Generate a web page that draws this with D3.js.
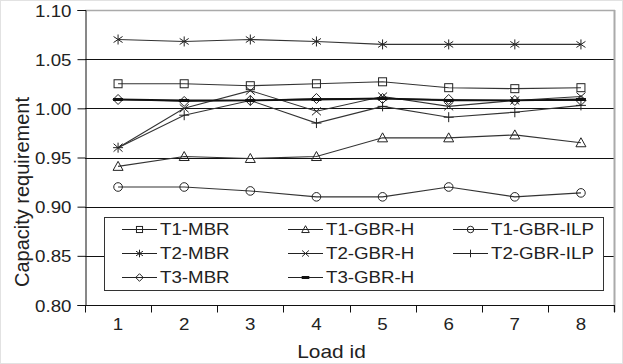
<!DOCTYPE html>
<html>
<head>
<meta charset="utf-8">
<script src="https://cdn.jsdelivr.net/npm/d3@7/dist/d3.min.js"></script>
<style>
  html, body { margin: 0; padding: 0; background: #fff; }
  svg { display: block; }
  text { font-family: "Liberation Sans", Arial, sans-serif; fill: #222; }
</style>
</head>
<body>
<svg id="chart" width="623" height="364"></svg>
<script>
// ---- data ----
const categories = ["1", "2", "3", "4", "5", "6", "7", "8"];
const yTicks = [0.80, 0.85, 0.90, 0.95, 1.00, 1.05, 1.10];
const seriesNames = ["T1-MBR", "T1-GBR-H", "T1-GBR-ILP", "T2-MBR", "T2-GBR-H", "T2-GBR-ILP", "T3-MBR", "T3-GBR-H"];
const seriesSymbols = ["square", "triangle", "circle", "asterisk", "cross", "plus", "diamond", "dash"];
const t1MBR    = [1.025, 1.025, 1.023, 1.025, 1.027, 1.021, 1.020, 1.021];
const t1GBRH   = [0.941, 0.951, 0.949, 0.951, 0.970, 0.970, 0.973, 0.965];
const t1GBRILP = [0.920, 0.920, 0.916, 0.910, 0.910, 0.920, 0.910, 0.914];
const t2MBR    = [1.070, 1.068, 1.070, 1.068, 1.065, 1.065, 1.065, 1.065];
const t2GBRH   = [0.960, 1.000, 1.018, 0.997, 1.012, 1.002, 1.008, 1.012];
const t2GBRILP = [0.960, 0.993, 1.008, 0.985, 1.002, 0.991, 0.996, 1.003];
const t3MBR    = [1.009, 1.007, 1.008, 1.010, 1.010, 1.009, 1.008, 1.008];
const t3GBRH   = [1.009, 1.008, 1.008, 1.009, 1.010, 1.008, 1.008, 1.009];
const seriesValues = [t1MBR, t1GBRH, t1GBRILP, t2MBR, t2GBRH, t2GBRILP, t3MBR, t3GBRH];

// ---- layout ----
const svg = d3.select("#chart");
const W = 623, H = 364;
const pLeft = 85, pRight = 614, pTop = 10, pBottom = 305;
const STRETCH = 1.1;

svg.append("rect").attr("x", 0.5).attr("y", 0.5).attr("width", W - 1).attr("height", H - 1)
  .attr("fill", "#fff").attr("stroke", "#e2e2e2");

const x = d3.scaleBand().domain(categories).range([pLeft, pRight]).padding(0);
const y = d3.scaleLinear().domain([0.80, 1.10]).range([pBottom, pTop]);
const cx = c => x(c) + x.bandwidth() / 2;

// gridlines
svg.append("g").selectAll("line").data(yTicks.filter(t => t > 0.8 && t < 1.1)).join("line")
  .attr("x1", pLeft).attr("x2", pRight)
  .attr("y1", d => Math.round(y(d)) + 0.5).attr("y2", d => Math.round(y(d)) + 0.5)
  .attr("stroke", "#111").attr("stroke-width", 1);

// top and right frame (grey)
svg.append("line").attr("x1", pLeft).attr("x2", pRight + 1).attr("y1", pTop + 0.5).attr("y2", pTop + 0.5)
  .attr("stroke", "#aaa").attr("stroke-width", 1.5);
svg.append("line").attr("x1", pRight + 0.5).attr("x2", pRight + 0.5).attr("y1", pTop).attr("y2", pBottom + 7)
  .attr("stroke", "#aaa").attr("stroke-width", 2);

// y axis
const yAxis = svg.append("g").attr("transform", `translate(${pLeft + 0.5},0)`)
  .call(d3.axisLeft(y).tickValues(yTicks).tickFormat(d3.format(".2f")).tickSize(8).tickPadding(6));
yAxis.select(".domain").attr("stroke", "#111");
yAxis.selectAll(".tick line").attr("stroke", "#111");
yAxis.selectAll("text").style("font-size", "17px").attr("fill", "#222").attr("dy", "0.36em");

// x axis
const xAxis = svg.append("g").attr("transform", `translate(0,${pBottom + 0.5})`);
xAxis.append("line").attr("x1", pLeft).attr("x2", pRight + 1).attr("y1", 0).attr("y2", 0).attr("stroke", "#111");
const bounds = categories.map(c => x(c)).concat([x(categories[categories.length - 1]) + x.bandwidth()]);
xAxis.selectAll("line.tk").data(bounds).join("line").attr("class", "tk")
  .attr("x1", d => Math.round(d) + 0.5).attr("x2", d => Math.round(d) + 0.5)
  .attr("y1", 0).attr("y2", 7).attr("stroke", "#111");
xAxis.selectAll("text.lbl").data(categories).join("text").attr("class", "lbl")
  .attr("x", d => cx(d)).attr("y", 24).attr("text-anchor", "middle")
  .style("font-size", "17px").text(d => d);

// axis titles
svg.append("text").attr("x", (pLeft + pRight) / 2 - 18).attr("y", 358).attr("text-anchor", "middle")
  .style("font-size", "19px").text("Load id");
svg.append("text").attr("transform", `translate(29,192) rotate(-90)`)
  .attr("text-anchor", "middle").style("font-size", "20px").attr("class", "norot").text("Capacity requirement");

// symbols
function drawSymbol(g, type, s) {
  const k = s / 5;
  const stroke = "#222";
  if (type === "square") {
    g.append("rect").attr("x", -4 * k).attr("y", -4 * k).attr("width", 8 * k).attr("height", 8 * k)
      .attr("fill", "none").attr("stroke", stroke);
  } else if (type === "triangle") {
    g.append("path").attr("d", `M0,${-5 * k}L${5 * k},${4 * k}L${-5 * k},${4 * k}Z`).attr("fill", "none").attr("stroke", stroke);
  } else if (type === "circle") {
    g.append("circle").attr("r", 4.3 * k).attr("fill", "none").attr("stroke", stroke);
  } else if (type === "asterisk") {
    g.append("path").attr("d", `M0,${-5 * k}V${5 * k}M${-4.5 * k},${-3 * k}L${4.5 * k},${3 * k}M${-4.5 * k},${3 * k}L${4.5 * k},${-3 * k}`)
      .attr("fill", "none").attr("stroke", stroke);
  } else if (type === "cross") {
    g.append("path").attr("d", `M${-4.5 * k},${-4 * k}L${4.5 * k},${4 * k}M${-4.5 * k},${4 * k}L${4.5 * k},${-4 * k}`)
      .attr("fill", "none").attr("stroke", stroke);
  } else if (type === "plus") {
    g.append("path").attr("d", `M0,${-5 * k}V${5 * k}M${-5 * k},0H${5 * k}`).attr("fill", "none").attr("stroke", stroke);
  } else if (type === "diamond") {
    g.append("path").attr("d", `M0,${-5 * k}L${5 * k},0L0,${5 * k}L${-5 * k},0Z`).attr("fill", "none").attr("stroke", stroke);
  } else if (type === "dash") {
    g.append("rect").attr("x", -5 * k).attr("y", -1.5).attr("width", 10 * k).attr("height", 3).attr("fill", "#111");
  }
}

// series lines + markers
const line = d3.line().x((d, i) => cx(categories[i])).y(d => y(d));
seriesValues.forEach((vals, si) => {
  const g = svg.append("g");
  g.append("path").attr("d", line(vals)).attr("fill", "none")
    .attr("stroke", si === 7 ? "#111" : "#333").attr("stroke-width", si === 7 ? 1.8 : 1.1);
  vals.forEach((v, i) => {
    const mg = g.append("g").attr("transform", `translate(${cx(categories[i])},${y(v)})`);
    drawSymbol(mg, seriesSymbols[si], 5);
  });
});

// legend
const lg = svg.append("g");
lg.append("rect").attr("x", 104.5).attr("y", 217.5).attr("width", 499).attr("height", 73)
  .attr("fill", "#fff").attr("stroke", "#333");
const colLine = [122, 288, 453];
const rowY = [229, 253, 277];
seriesNames.forEach((name, i) => {
  const col = i % 3, row = Math.floor(i / 3);
  const x0 = colLine[col], yy = rowY[row];
  const g = lg.append("g");
  g.append("line").attr("x1", x0).attr("x2", x0 + 35).attr("y1", yy + 0.5).attr("y2", yy + 0.5)
    .attr("stroke", "#222").attr("stroke-width", 1);
  const mg = g.append("g").attr("transform", `translate(${x0 + 17.5},${yy + 0.5})`);
  drawSymbol(mg, seriesSymbols[i], 3.8);
  g.append("text").attr("x", x0 + 38).attr("y", yy).attr("dy", "0.36em")
    .style("font-size", "17px").text(name);
});

// widen glyphs horizontally to match reference proportions
svg.selectAll("text").each(function () {
  if (d3.select(this).classed("norot")) return;
  const len = this.getComputedTextLength();
  d3.select(this).attr("textLength", len * STRETCH).attr("lengthAdjust", "spacingAndGlyphs");
});
</script>
</body>
</html>
